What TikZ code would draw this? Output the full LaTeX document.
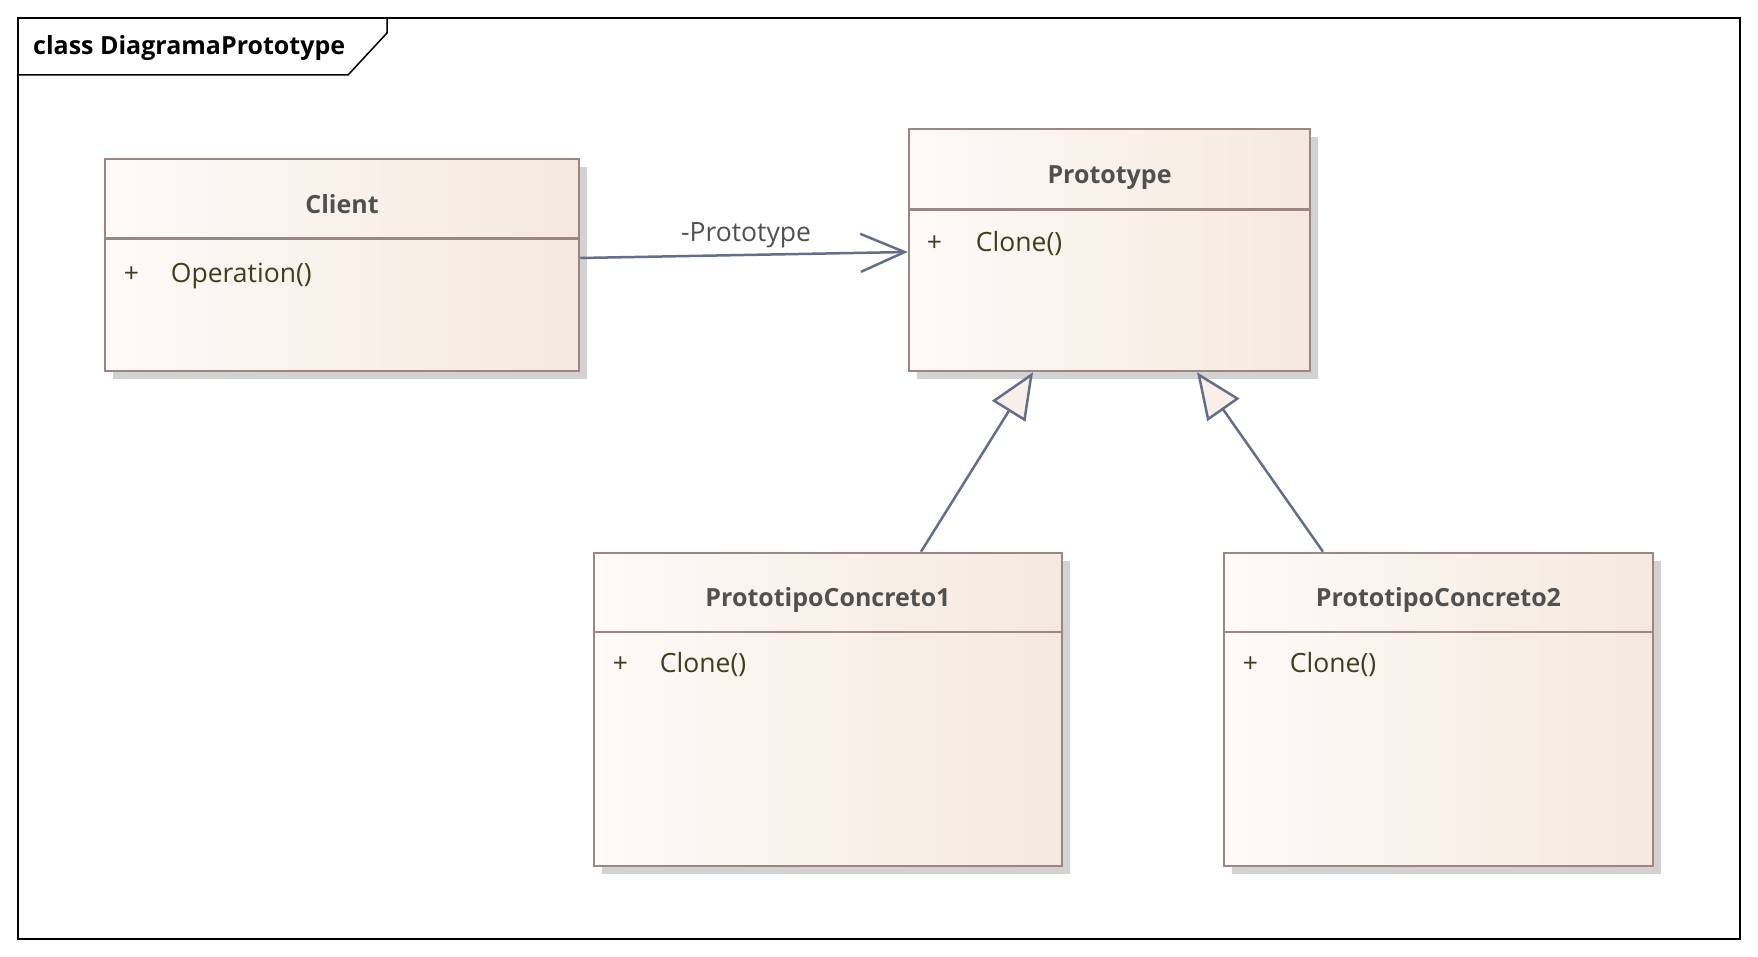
\documentclass[tikz,border=0pt]{standalone}
\usepackage{fontspec}
\setmainfont{Open Sans}
\usetikzlibrary{arrows.meta,shadows}
\definecolor{lnc}{RGB}{100,110,138}
\definecolor{bordc}{RGB}{155,134,132}
\definecolor{shadc}{RGB}{210,210,210}
\definecolor{fillL}{RGB}{253,250,247}
\definecolor{fillR}{RGB}{245,233,222}
\definecolor{titc}{RGB}{80,80,80}
\definecolor{opc}{RGB}{62,62,30}
\definecolor{trif}{RGB}{248,239,233}
\tikzset{
  classbox/.style={rectangle, draw=bordc, line width=2.5pt, inner sep=0pt,
    left color=fillL, right color=fillR,
    drop shadow={shadow xshift=8pt, shadow yshift=-8pt, fill=shadc, opacity=1}},
  divider/.style={draw=bordc, line width=2.5pt},
  titletxt/.style={inner sep=0pt, text=titc, font=\fontsize{25}{29}\selectfont\bfseries},
  optxt/.style={inner sep=0pt, text=opc, font=\fontsize{26.5}{30}\selectfont},
  lbltxt/.style={inner sep=0pt, text=titc, font=\fontsize{26.5}{30}\selectfont},
  assoc/.style={draw=lnc, line width=2.5pt, -{Straight Barb[length=44pt, width=38pt, line width=2.5pt]}},
  gener/.style={draw=lnc, line width=2.5pt, -{Triangle[open, length=46pt, width=39pt, line width=2.5pt, fill=trif]}},
  framec/.style={draw=black, line width=1.5pt},
}
\begin{document}
\begin{tikzpicture}[x=1pt,y=-1pt]
\useasboundingbox (0,0) rectangle (1758,957);
% frame
\draw[framec] (18,18) rectangle (1740,939);
\draw[framec] (18,75) -- (348,75) -- (387,33) -- (387,18);
\node[inner sep=0pt, anchor=base west, font=\fontsize{25}{29}\selectfont\bfseries] (frameT) at (33,55) {class DiagramaPrototype};

% classes
\node[classbox, minimum width=474pt, minimum height=212pt] (client) at (342,265) {};
\node[classbox, minimum width=401pt, minimum height=242pt] (proto) at (1109.5,250) {};
\node[classbox, minimum width=468pt, minimum height=313pt] (pc1) at (828,709.5) {};
\node[classbox, minimum width=429pt, minimum height=313pt] (pc2) at (1438.5,709.5) {};

% dividers
\draw[divider] ([yshift=-81pt]client.north west) -- ([yshift=-81pt]client.north east);
\draw[divider] ([yshift=-82pt]proto.north west) -- ([yshift=-82pt]proto.north east);
\draw[divider] ([yshift=-80pt]pc1.north west) -- ([yshift=-80pt]pc1.north east);
\draw[divider] ([yshift=-80pt]pc2.north west) -- ([yshift=-80pt]pc2.north east);

% titles
\node[titletxt, anchor=base] (clientT) at ([yshift=-56pt]client.north) {Client};
\node[titletxt, anchor=base] (protoT) at ([yshift=-56pt]proto.north) {Prototype};
\node[titletxt, anchor=base] (pc1T) at ([yshift=-55pt]pc1.north) {PrototipoConcreto1};
\node[titletxt, anchor=base] (pc2T) at ([yshift=-55pt]pc2.north) {PrototipoConcreto2};

% operations
\node[optxt, anchor=base west] (clientV) at ([xshift=20pt,yshift=-125pt]client.north west) {+};
\node[optxt, anchor=base west] (clientO) at ([xshift=67pt,yshift=-125pt]client.north west) {Operation()};
\node[optxt, anchor=base west] (protoV) at ([xshift=19pt,yshift=-124pt]proto.north west) {+};
\node[optxt, anchor=base west] (protoO) at ([xshift=68pt,yshift=-124pt]proto.north west) {Clone()};
\node[optxt, anchor=base west] (pc1V) at ([xshift=20pt,yshift=-121pt]pc1.north west) {+};
\node[optxt, anchor=base west] (pc1O) at ([xshift=67pt,yshift=-121pt]pc1.north west) {Clone()};
\node[optxt, anchor=base west] (pc2V) at ([xshift=20pt,yshift=-121pt]pc2.north west) {+};
\node[optxt, anchor=base west] (pc2O) at ([xshift=67pt,yshift=-121pt]pc2.north west) {Clone()};

% connectors
\draw[assoc] ([yshift=7pt]client.east) -- ([yshift=-2pt]proto.west);
\node[lbltxt, anchor=base] (assocL) at (746,242) {-Prototype};
\draw[gener] ([xshift=93pt]pc1.north) -- ([xshift=-76.5pt]proto.south);
\draw[gener] ([xshift=-115.5pt]pc2.north) -- ([xshift=87.5pt]proto.south);
\end{tikzpicture}
\end{document}
